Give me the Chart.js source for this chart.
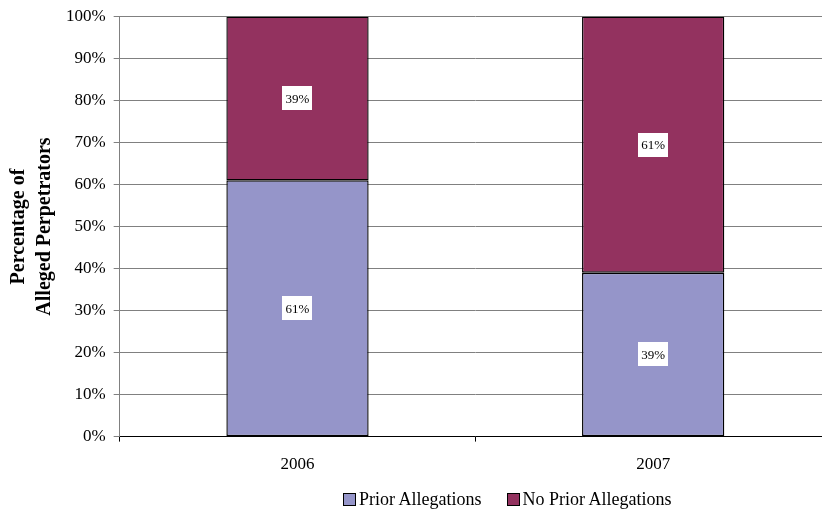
<!DOCTYPE html>
<html>
<head>
<meta charset="utf-8">
<script src="https://cdn.jsdelivr.net/npm/chart.js@4.4.0/dist/chart.umd.min.js"></script>
<style>
  html, body { margin: 0; padding: 0; background: #fff; overflow: hidden; }
  #wrap { position: relative; width: 822px; height: 513px; overflow: hidden; }
  #wrap canvas { position: absolute; left: 0; top: 0; }
  #legend { position: absolute; top: 488px; left: 343px; display: flex; font-family: "Liberation Serif", serif; font-size: 18px; line-height: 22px; color: #000; white-space: nowrap; }
  #legend .item { display: flex; align-items: center; margin-right: 25px; }
  #legend .box { width: 11px; height: 11px; border: 1px solid #000; margin-right: 3px; }
</style>
</head>
<body>
<div id="wrap">
  <canvas id="chart" width="832" height="513" style="width:832px;height:513px"></canvas>
  <div id="legend"></div>
</div>
<script>
const years = ["2006", "2007"];
const seriesNames = ["Prior Allegations", "No Prior Allegations"];
const priorAllegations = [61, 39];
const noPriorAllegations = [39, 61];
const seriesColors = ["#9595C9", "#93325F"];

// white boxed value labels in the middle of each segment
const segmentLabels = {
  id: "segmentLabels",
  afterDatasetsDraw(chart) {
    const ctx = chart.ctx;
    ctx.save();
    ctx.font = "13px 'Liberation Serif', serif";
    ctx.textAlign = "center";
    ctx.textBaseline = "middle";
    chart.data.datasets.forEach((ds, i) => {
      const meta = chart.getDatasetMeta(i);
      meta.data.forEach((bar, j) => {
        const text = ds.data[j] + "%";
        const cy = (bar.y + bar.base) / 2;
        const w = 30, h = 24;
        ctx.fillStyle = "#fff";
        ctx.fillRect(Math.round(bar.x - w / 2), Math.round(cy - h / 2), w, h);
        ctx.fillStyle = "#000";
        ctx.fillText(text, bar.x, cy + 1);
      });
    });
    ctx.restore();
  }
};

const chart = new Chart(document.getElementById("chart"), {
  type: "bar",
  data: {
    labels: years,
    datasets: [
      { label: seriesNames[0], data: priorAllegations, backgroundColor: seriesColors[0], borderColor: "#000", borderWidth: 1.4, borderSkipped: false },
      { label: seriesNames[1], data: noPriorAllegations, backgroundColor: seriesColors[1], borderColor: "#000", borderWidth: 1.4, borderSkipped: false }
    ]
  },
  options: {
    responsive: false,
    animation: false,
    layout: { padding: { top: 0, right: 1, bottom: 25, left: 6 } },
    datasets: { bar: { categoryPercentage: 1, barPercentage: 0.4 } },
    plugins: {
      legend: { display: false },
      tooltip: { enabled: false }
    },
    scales: {
      x: {
        stacked: true,
        grid: { offset: true, drawOnChartArea: false, drawTicks: true, tickLength: 5, color: "#000" },
        border: { color: "#000" },
        ticks: { color: "#000", padding: 13, font: { family: "Liberation Serif", size: 17 } }
      },
      y: {
        stacked: true,
        min: 0,
        max: 100,
        grid: { color: "#808080", tickLength: 6 },
        border: { color: "#808080" },
        ticks: { stepSize: 10, color: "#000", padding: 8, font: { family: "Liberation Serif", size: 17, lineHeight: 1 }, callback: v => v + "%" },
        title: {
          display: true,
          text: ["Percentage of", "Alleged Perpetrators"],
          color: "#000",
          padding: { top: 0, bottom: 0 },
          font: { family: "Liberation Serif", size: 20, weight: "bold", lineHeight: 1.3 }
        }
      }
    }
  },
  plugins: [segmentLabels]
});

// html legend built from the chart's datasets
const legend = document.getElementById("legend");
chart.data.datasets.forEach(ds => {
  const item = document.createElement("div");
  item.className = "item";
  const box = document.createElement("span");
  box.className = "box";
  box.style.background = ds.backgroundColor;
  const label = document.createElement("span");
  label.textContent = ds.label;
  item.appendChild(box);
  item.appendChild(label);
  legend.appendChild(item);
});
</script>
</body>
</html>
